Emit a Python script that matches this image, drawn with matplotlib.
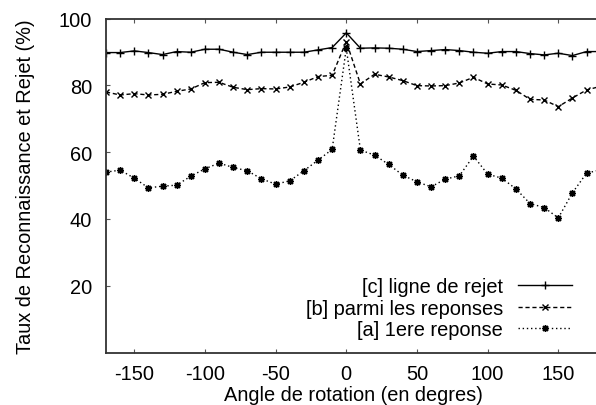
import matplotlib
matplotlib.use("Agg")
import matplotlib.pyplot as plt

angles = [-170, -160, -150, -140, -130, -120, -110, -100, -90, -80, -70, -60, -50, -40,
          -30, -20, -10, 0, 10, 20, 30, 40, 50, 60, 70, 80, 90, 100, 110, 120, 130, 140,
          150, 160, 170, 180]

rejet = [89.8, 89.8, 90.3, 89.8, 89.2, 90.1, 89.9, 90.8, 90.8, 89.9, 89.2, 89.9, 89.9, 89.9,
         89.9, 90.6, 91.3, 95.7, 91.1, 91.2, 91.1, 90.8, 90.1, 90.4, 90.7, 90.4, 89.9, 89.6,
         90.1, 90.1, 89.5, 89.1, 89.6, 88.9, 90.1, 90.1]

parmi = [78.0, 77.1, 77.5, 77.1, 77.3, 78.2, 78.9, 80.8, 80.9, 79.4, 78.7, 79.0, 78.9, 79.5,
         80.9, 82.6, 83.0, 93.1, 80.4, 83.3, 82.5, 81.4, 79.9, 79.8, 79.9, 80.7, 82.4, 80.4,
         80.1, 78.5, 75.8, 75.6, 73.6, 76.2, 78.6, 79.7]

premiere = [54.0, 54.6, 52.2, 49.3, 49.8, 50.1, 52.8, 55.0, 56.7, 55.4, 54.4, 52.0, 50.4, 51.4,
            54.4, 57.6, 60.8, 91.1, 60.6, 59.1, 56.3, 53.1, 51.1, 49.6, 51.9, 52.9, 58.8, 53.4,
            52.2, 49.0, 44.6, 43.4, 40.3, 47.8, 53.7, 54.7]

labels = ["[c] ligne de rejet", "[b] parmi les reponses", "[a] 1ere reponse"]
xticks = [-150, -100, -50, 0, 50, 100, 150]
yticks = [20, 40, 60, 80, 100]

FS = 14.4
plt.rcParams['font.family'] = ['Liberation Sans', 'DejaVu Sans']
plt.rcParams['font.size'] = FS
plt.rcParams['axes.unicode_minus'] = False

W, H = 596, 406
fig = plt.figure(figsize=(W / 100, H / 100), dpi=100)
x0, x1 = 106, 600.7
y0, y1 = 353.5, 19.5
ax = fig.add_axes([x0 / W, (H - y0) / H, (x1 - x0) / W, (y0 - y1) / H])

ax.plot(angles, rejet, color='black', lw=1.0, ls='-', marker='+', ms=6, mew=1.0,
        label=labels[0])
ax.plot(angles, parmi, color='black', lw=1.0, ls=(0, (3, 2)), marker='x', ms=5, mew=1.0,
        label=labels[1])
ax.plot(angles, premiere, color='black', lw=1.0, ls=(0, (1, 2)), marker=(8, 2, 0), ms=5,
        mew=1.0, label=labels[2])

ax.set_xlim(-170, 180)
ax.set_ylim(0, 100)
ax.set_xticks(xticks)
ax.set_yticks(yticks)
ax.tick_params(direction='in', length=3, width=0.8, color='#555555', top=True,
               right=False, labelsize=FS)
ax.tick_params(axis='x', pad=8)
ax.tick_params(axis='y', pad=10)
for s in ax.spines.values():
    s.set_linewidth(1.3)
    s.set_color('#333333')
ax.spines['right'].set_visible(False)

ax.set_xlabel("Angle de rotation (en degres)", fontsize=FS, labelpad=2)
ax.set_ylabel("Taux de Reconnaissance et Rejet (%)", fontsize=FS, labelpad=17)

leg = ax.legend(loc='lower right', bbox_to_anchor=(572 / W, (H - 340) / H),
                bbox_transform=fig.transFigure, frameon=False, markerfirst=False,
                handlelength=2.7, handletextpad=0.75, labelspacing=0.12, borderpad=0,
                borderaxespad=0, fontsize=FS)

fig.savefig("out.png", dpi=100)
